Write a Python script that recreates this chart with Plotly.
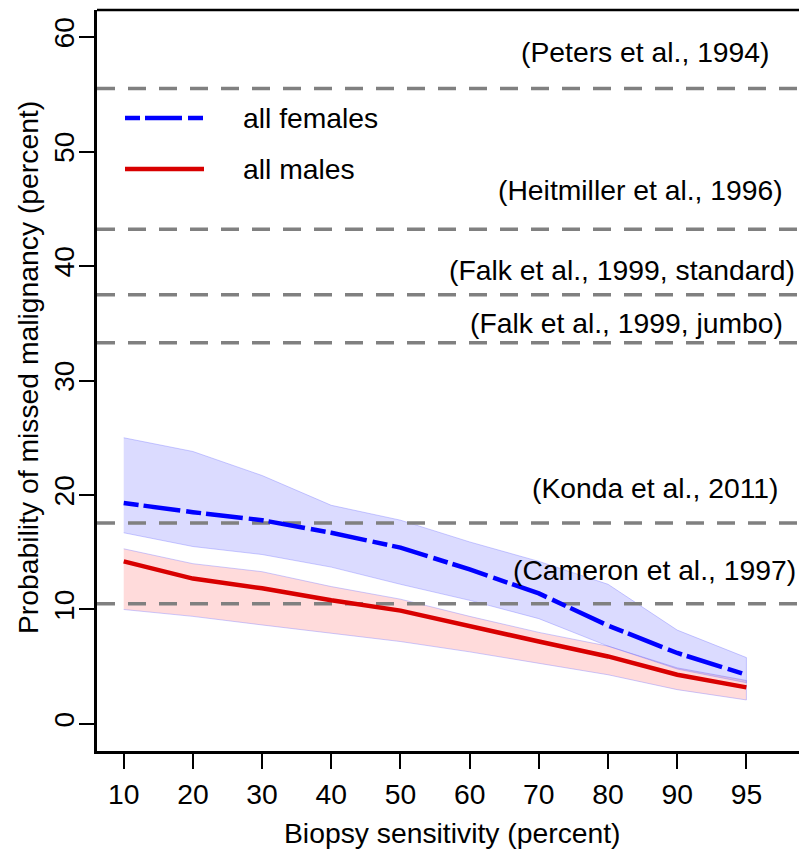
import plotly.graph_objects as go

# ---------------- data ----------------
sens_labels = ["10", "20", "30", "40", "50", "60", "70", "80", "90", "95"]
fem_mid = [19.3, 18.5, 17.8, 16.7, 15.4, 13.5, 11.4, 8.6, 6.2, 4.3]
fem_hi = [25.0, 23.8, 21.7, 19.1, 17.8, 15.9, 14.2, 12.2, 8.2, 5.8]
fem_lo = [16.7, 15.5, 14.8, 13.7, 12.2, 10.8, 9.2, 6.8, 4.8, 3.6]
male_mid = [14.2, 12.7, 11.85, 10.8, 9.9, 8.5, 7.2, 5.9, 4.3, 3.2]
male_hi = [15.3, 14.0, 13.3, 12.0, 10.9, 9.4, 8.0, 6.8, 4.9, 3.8]
male_lo = [10.0, 9.4, 8.65, 7.9, 7.2, 6.3, 5.3, 4.3, 3.0, 2.1]

ref_values = [55.5, 43.2, 37.5, 33.3, 17.55, 10.5]
ref_labels = ["(Peters et al., 1994)", "(Heitmiller et al., 1996)",
              "(Falk et al., 1999, standard)", "(Falk et al., 1999, jumbo)",
              "(Konda et al., 2011)", "(Cameron et al., 1997)"]
y_ticks = [0, 10, 20, 30, 40, 50, 60]

# ---------------- layout constants ----------------
W, H = 799, 852
L, R, T, B = 97, 0, 10, 101
PW, PH = W - L - R, H - T - B
XR = [-0.386, 9.76]
YR = [-2.36, 62.36]
FONT = "Liberation Sans, Arial, sans-serif"
FS = 28.3

idx = list(range(len(sens_labels)))

def px2paper_x(px):
    return (px - L) / PW

def py2paper_y(py):
    return (H - B - py) / PH

fig = go.Figure()

band_edge = "rgba(110,110,255,0.35)"
# male band
fig.add_trace(go.Scatter(x=idx + idx[::-1], y=male_hi + male_lo[::-1], fill="toself",
                         fillcolor="rgba(255,0,0,0.14)", line=dict(color=band_edge, width=1),
                         mode="lines", showlegend=False, hoverinfo="skip"))
# female band
fig.add_trace(go.Scatter(x=idx + idx[::-1], y=fem_hi + fem_lo[::-1], fill="toself",
                         fillcolor="rgba(0,0,255,0.14)", line=dict(color=band_edge, width=1),
                         mode="lines", showlegend=False, hoverinfo="skip"))

# reference lines
for v in ref_values:
    fig.add_trace(go.Scatter(x=[XR[0], XR[1]], y=[v, v], mode="lines",
                             line=dict(color="#808080", width=3.5, dash="18px,13px"),
                             showlegend=False, hoverinfo="skip"))

fig.add_trace(go.Scatter(x=idx, y=male_mid, mode="lines",
                         line=dict(color="#d80000", width=4.5), name="all males",
                         showlegend=False))
fig.add_trace(go.Scatter(x=idx, y=fem_mid, mode="lines",
                         line=dict(color="#0000ff", width=4.5, dash="15px,5px,37px,6px"),
                         name="all females", showlegend=False))

annotations = []
shapes = []
label_right = [772, 785, 797, 785, 780, 798]
label_cy = [52, 190, 270, 323, 488, 570]
for lab, rx, cy in zip(ref_labels, label_right, label_cy):
    annotations.append(dict(text=lab, xref="paper", yref="paper",
                            x=px2paper_x(rx), y=py2paper_y(cy),
                            xanchor="right", yanchor="middle", showarrow=False,
                            font=dict(family=FONT, size=FS, color="black")))

# manual legend
for name, col, dash, cy in [("all females", "#0000ff", "15px,5px,37px,6px", 118),
                            ("all males", "#d80000", "solid", 169)]:
    shapes.append(dict(type="line", xref="paper", yref="paper",
                       x0=px2paper_x(125), x1=px2paper_x(204),
                       y0=py2paper_y(cy), y1=py2paper_y(cy),
                       line=dict(color=col, width=4.5, dash=dash)))
    annotations.append(dict(text=name, xref="paper", yref="paper",
                            x=px2paper_x(241), y=py2paper_y(cy),
                            xanchor="left", yanchor="middle", showarrow=False,
                            font=dict(family=FONT, size=FS, color="black")))

# axis titles
annotations.append(dict(text="Biopsy sensitivity (percent)", xref="paper", yref="paper",
                        x=px2paper_x(452), y=py2paper_y(833), xanchor="center",
                        yanchor="middle", showarrow=False,
                        font=dict(family=FONT, size=FS, color="black")))
annotations.append(dict(text="Probability of missed malignancy (percent)", xref="paper",
                        yref="paper", x=px2paper_x(28), y=py2paper_y(368),
                        xanchor="center", yanchor="middle", textangle=-90,
                        showarrow=False, font=dict(family=FONT, size=FS, color="black")))

# top border line
shapes.append(dict(type="line", xref="paper", yref="paper", x0=0, x1=1, y0=1, y1=1,
                   line=dict(color="black", width=2.5)))

fig.update_layout(
    width=W, height=H, margin=dict(l=L, r=R, t=T, b=B, pad=0),
    paper_bgcolor="white", plot_bgcolor="white",
    font=dict(family=FONT, size=FS, color="black"),
    xaxis=dict(range=XR, tickmode="array", tickvals=idx, ticktext=sens_labels,
               showgrid=False, zeroline=False, showline=True, linecolor="black",
               linewidth=2.5, ticks="outside", ticklen=15, tickwidth=2,
               tickcolor="black", ticklabelstandoff=1,
               tickfont=dict(family=FONT, size=FS, color="black")),
    yaxis=dict(range=YR, tickmode="array", tickvals=y_ticks,
               showgrid=False, zeroline=False, showline=True, linecolor="black",
               linewidth=2.5, ticks="outside", ticklen=15, tickwidth=2,
               tickcolor="black", tickangle=-90, ticklabelstandoff=-6,
               tickfont=dict(family=FONT, size=FS, color="black")),
    annotations=annotations, shapes=shapes, showlegend=False,
)

fig.write_html("out.html")
